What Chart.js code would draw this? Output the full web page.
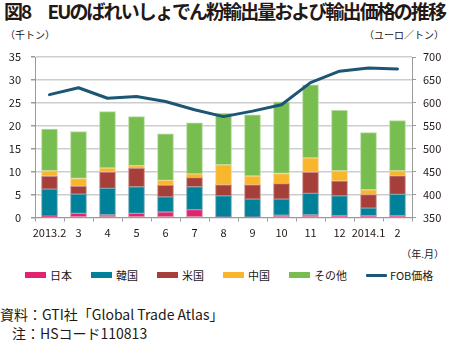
<!DOCTYPE html>
<html>
<head>
<meta charset="utf-8">
<script src="https://cdn.jsdelivr.net/npm/chart.js@4.4.1/dist/chart.umd.min.js"></script>
<style>
  html, body { margin:0; padding:0; background:#fff; }
  body { width:450px; height:340px; position:relative; overflow:hidden;
         font-family:'Noto Sans CJK JP','Noto Sans',sans-serif; color:#231815; }
  .t { position:absolute; white-space:nowrap; }
  #title { left:4px; top:-2px; font-size:19px; font-weight:bold; letter-spacing:-1.8px; line-height:26px; }
  #uL { left:5px; top:28px; font-size:10px; line-height:14px; }
  #uR { right:6px; top:28px; font-size:10px; line-height:14px; }
  #uX { right:6px; top:247px; font-size:10px; line-height:14px; }
  #src1 { left:0px; top:305px; font-size:14px; line-height:18px; letter-spacing:0px; }
  #src2 { left:12px; top:324px; font-size:14px; line-height:18px; letter-spacing:0px; }
  #legend { position:absolute; left:25px; top:268px; display:flex; align-items:center; font-size:11px; line-height:14px; white-space:nowrap; width:430px; }
  .li { display:flex; align-items:center; margin-right:19px; flex-shrink:0; white-space:nowrap; }
  .sw { width:21px; height:6px; margin-right:4px; flex-shrink:0; }
  .ln { width:21px; height:3px; margin-right:3px; border-radius:1px; flex-shrink:0; }
  canvas { position:absolute; left:0; top:0; }
</style>
</head>
<body>
<div class="t" id="title">図8　EUのばれいしょでん粉輸出量および輸出価格の推移</div>
<div class="t" id="uL">（千トン）</div>
<div class="t" id="uR">（ユーロ／トン）</div>
<div class="t" id="uX">（年.月）</div>
<canvas id="c" width="450" height="245"></canvas>
<div id="legend"></div>
<div class="t" id="src1">資料：GTI社「Global Trade Atlas」</div>
<div class="t" id="src2">注：HSコード110813</div>
<script>
// ---- data ----
const months = ['2013.2','3','4','5','6','7','8','9','10','11','12','2014.1','2'];
const japan  = [0.3, 0.9, 0.6, 0.9, 1.2, 1.7, 0.05, 0.05, 0.5, 0.6, 0.4, 0.4, 0.4];
const korea  = [5.9, 4.2, 5.75, 5.8, 3.3, 5.0, 4.65, 3.95, 3.5, 4.65, 4.3, 1.65, 4.65];
const usa    = [2.8, 1.7, 3.55, 4.0, 2.5, 2.0, 2.4, 3.1, 3.4, 4.6, 3.25, 2.95, 4.05];
const china  = [1.2, 1.7, 0.9, 0.6, 1.1, 0.8, 4.4, 1.95, 2.2, 3.15, 2.25, 1.05, 1.1];
const other  = [9.1, 10.25, 12.3, 10.7, 10.15, 11.15, 11.2, 13.35, 15.65, 15.95, 13.15, 12.45, 10.95];
const fob    = [618, 633, 610, 614, 603, 585, 570, 582, 596, 644, 669, 676, 674];
const seriesNames = ['日本','韓国','米国','中国','その他','FOB価格'];
const leftTicks  = [0, 35, 5];     // min, max, step
const rightTicks = [350, 700, 50];

// ---- styles ----
const fills   = ['#E2246E','#00819A','#A63F3A','#F9B52B','#78BD4F'];
const borders = ['#d98aa6','#6fa9b5','#c98a86','#f7d48a','#b5dc9c'];
const lineColor = '#1C5674';
const txt = '#231815';
const gridC = '#cdcdcd';

// fit title width to the reference (~441px)
(function () {
  const t = document.getElementById('title');
  const n = t.textContent.length;
  const w = t.getBoundingClientRect().width;
  const ls = -1.8 + (441 - w) / n;
  t.style.letterSpacing = ls + 'px';
})();

Chart.defaults.font.family = "'Noto Sans CJK JP','Noto Sans',sans-serif";
Chart.defaults.color = txt;

const barSets = [japan, korea, usa, china, other].map((d, i) => ({
  type: 'bar', label: seriesNames[i], data: d, yAxisID: 'y', order: 1,
  backgroundColor: fills[i], borderColor: borders[i], borderWidth: 1,
  borderSkipped: false, barThickness: 16, stack: 's'
}));

const chart = new Chart(document.getElementById('c'), {
  data: {
    labels: months,
    datasets: [...barSets, {
      type: 'line', label: seriesNames[5], data: fob, yAxisID: 'y1', order: 0,
      borderColor: lineColor, backgroundColor: lineColor, borderWidth: 3,
      pointRadius: 0, tension: 0, borderCapStyle: 'round', borderJoinStyle: 'round'
    }]
  },
  options: {
    responsive: false, animation: false, devicePixelRatio: 1,
    layout: { padding: { top: 57, left: 0, right: 0, bottom: 0 } },
    plugins: { legend: { display: false }, tooltip: { enabled: false } },
    scales: {
      x: {
        stacked: true, offset: true,
        grid: { display: true, offset: true, drawOnChartArea: false, drawTicks: true, tickLength: 4, color: '#9a9a9a' },
        border: { display: true, color: '#9a9a9a', width: 1 },
        ticks: { font: { size: 11 }, padding: 5, maxRotation: 0, autoSkip: false, color: txt },
        afterFit: s => { s.height = 27.5; }
      },
      y: {
        position: 'left', stacked: true,
        min: leftTicks[0], max: leftTicks[1],
        grid: { color: gridC, lineWidth: 1.5, tickLength: 4, tickColor: '#9a9a9a' },
        border: { display: true, color: '#9a9a9a', width: 1 },
        ticks: { stepSize: leftTicks[2], font: { size: 11 }, padding: 10, color: txt },
        afterFit: s => { s.width = 35; }
      },
      y1: {
        position: 'right',
        min: rightTicks[0], max: rightTicks[1],
        grid: { drawOnChartArea: false, tickLength: 4, color: '#9a9a9a' },
        border: { display: true, color: '#9a9a9a', width: 1 },
        ticks: { stepSize: rightTicks[2], font: { size: 11 }, padding: 7, color: txt },
        afterFit: s => { s.width = 38; }
      }
    }
  }
});

// HTML legend generated from the chart datasets
const lg = document.getElementById('legend');
chart.data.datasets.forEach(ds => {
  const item = document.createElement('div');
  item.className = 'li';
  const sw = document.createElement('div');
  sw.className = ds.type === 'line' ? 'ln' : 'sw';
  sw.style.background = ds.type === 'line' ? ds.borderColor : ds.backgroundColor;
  const lab = document.createElement('span');
  lab.textContent = ds.label;
  item.appendChild(sw); item.appendChild(lab);
  lg.appendChild(item);
});
</script>
</body>
</html>
